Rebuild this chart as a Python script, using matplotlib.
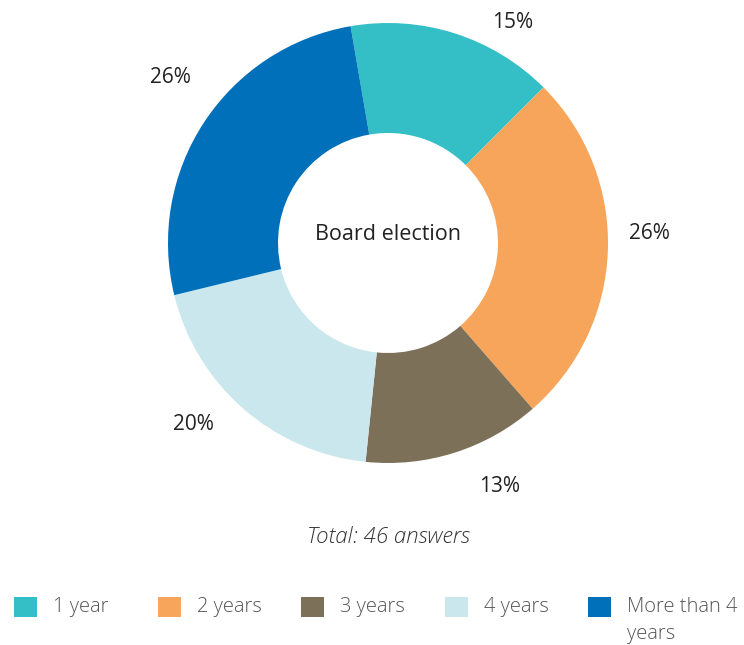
import matplotlib.pyplot as plt
from matplotlib.patches import Patch
import numpy as np

plt.rcParams["font.family"] = ["Open Sans", "DejaVu Sans"]

categories = ["1 year", "2 years", "3 years", "4 years", "More than 4\nyears"]
answers = [7, 12, 6, 9, 12]
colors = ["#34BFC7", "#F6A55A", "#7D7059", "#C9E7ED", "#0070BA"]
# small nudges so the labels sit like in the original layout
label_shift = [-12, 4, 7, -6, -4]      # degrees
label_r = [1.15, 1.19, 1.22, 1.21, 1.24]

total = sum(answers)

fig = plt.figure(figsize=(7.44, 6.45), dpi=100)

# donut: centre (388, 243) px, radius 220 px
W, H = 744, 645
ax = fig.add_axes([(388 - 220) / W, (H - 243 - 220) / H, 440 / W, 440 / H])

wedges, _ = ax.pie(
    answers,
    colors=colors,
    startangle=99.8,
    counterclock=False,
    wedgeprops=dict(width=0.5, edgecolor="none"),
)
ax.set_xlim(-1, 1)
ax.set_ylim(-1, 1)
ax.set_aspect("equal")
ax.axis("off")

for w, n, shift, r in zip(wedges, answers, label_shift, label_r):
    ang = np.deg2rad((w.theta1 + w.theta2) / 2 + shift)
    ax.text(r * np.cos(ang), r * np.sin(ang), f"{round(100 * n / total)}%",
            ha="center", va="center", fontsize=15, color="#222222", clip_on=False)

ax.text(0, 0.04, "Board election", ha="center", va="center", fontsize=15.5, color="#222222")

fig.text(388 / W, 1 - 537 / H, f"Total: {total} answers", ha="center", va="center",
         fontsize=16, style="italic", fontweight="light", color="#333333")

# legend, one entry every ~143.5 px
for i, (cat, col) in enumerate(zip(categories, colors)):
    leg = fig.legend(
        handles=[Patch(facecolor=col, edgecolor="none")],
        labels=[cat],
        loc="upper left",
        bbox_to_anchor=((6 + i * 143.5) / W, 1 - 589 / H),
        frameon=False,
        fontsize=14.5,
        handlelength=1.15,
        handleheight=1.15,
        handletextpad=0.8,
        borderaxespad=0,
        labelspacing=0,
    )
    # keep the square level with the first line of the label
    for col_box in leg._legend_handle_box.get_children():
        for item in col_box.get_children():
            item.align = "top"
    for t in leg.get_texts():
        t.set_color("#555555")
        t.set_fontweight("light")
        t.set_linespacing(1.45)

fig.savefig("out.png", dpi=100)
